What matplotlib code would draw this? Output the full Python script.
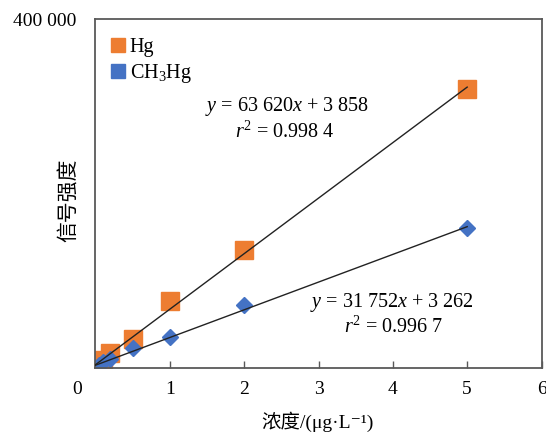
import matplotlib
matplotlib.use("Agg")
import matplotlib.pyplot as plt
from matplotlib.lines import Line2D
import numpy as np

plt.rcParams['font.family'] = ['Liberation Serif', 'Noto Sans CJK SC', 'DejaVu Serif']
plt.rcParams['mathtext.fontset'] = 'custom'
plt.rcParams['mathtext.rm'] = 'Liberation Serif'
plt.rcParams['mathtext.it'] = 'Liberation Serif:italic'

# data
conc = [0.05, 0.1, 0.2, 0.5, 1, 2, 5]
hg = [5000, 9000, 17200, 33200, 76800, 135200, 319400]
ch3hg = [3800, 6500, 10500, 22900, 35500, 72200, 160500]

hg_fit = [63620, 3858]
ch3hg_fit = [31752, 3262]

xticks = [1, 2, 3, 4, 5, 6]

c_hg = '#ED7D31'
c_me = '#4472C4'

fig = plt.figure(figsize=(5.46, 4.32), dpi=100)
ax = fig.add_axes([0.1749, 0.148, 0.8169, 0.808])

ax.plot(conc, hg, 's', color=c_hg, markersize=12.5, zorder=2)
ax.plot(conc, ch3hg, 'D', color=c_me, markersize=8.5, zorder=2)

xs = np.array([0.0, 5.0])
ax.plot(xs, hg_fit[0] * xs + hg_fit[1], color='#222222', lw=1, zorder=3)
ax.plot(xs, ch3hg_fit[0] * xs + ch3hg_fit[1], color='#222222', lw=1, zorder=3)

ax.set_xlim(0, 6)
ax.set_ylim(0, 400000)
ax.set_xticks(xticks)
ax.set_xticklabels([str(t) for t in xticks])
ax.set_yticks([400000])
ax.set_yticklabels(['400 000'])
ax.tick_params(axis='x', direction='in', length=5, width=1, color='#595959',
               labelsize=14, pad=9)
ax.tick_params(axis='y', length=0, labelsize=14, pad=14)
for s in ax.spines.values():
    s.set_color('#595959')
    s.set_linewidth(1.3)

fig.text(77 / 546, 1 - 389 / 432, '0', fontsize=14, ha='center', va='center')

fig.text(287 / 546, 1 - 107 / 432, '$y$ = 63 620$x$ + 3 858', fontsize=14.5,
         ha='center', va='center')
fig.text(285 / 546, 1 - 132 / 432, '$r^2$ = 0.998 4', fontsize=14.5,
         ha='center', va='center')
fig.text(392 / 546, 1 - 303 / 432, '$y$ = 31 752$x$ + 3 262', fontsize=14.5,
         ha='center', va='center')
fig.text(394 / 546, 1 - 327 / 432, '$r^2$ = 0.996 7', fontsize=14.5,
         ha='center', va='center')

handles = [Line2D([], [], marker='s', ls='', color=c_hg, markersize=10),
           Line2D([], [], marker='s', ls='', color=c_me, markersize=10)]
ax.legend(handles, ['Hg', 'CH$_3$Hg'], loc='upper left',
          bbox_to_anchor=(0.0, 0.985), frameon=False, fontsize=14.5,
          handlelength=0.8, handletextpad=0.2, labelspacing=0.25,
          borderaxespad=0.3)

fig.text(318 / 546, 1 - 422 / 432, '浓度/(μg·L⁻¹)', fontsize=14,
         ha='center', va='center')
fig.text(68 / 546, 1 - 200 / 432, '信号强度', fontsize=15, rotation=90,
         family=['Noto Sans CJK SC'], ha='center', va='center')

fig.savefig('out.png', dpi=100)
